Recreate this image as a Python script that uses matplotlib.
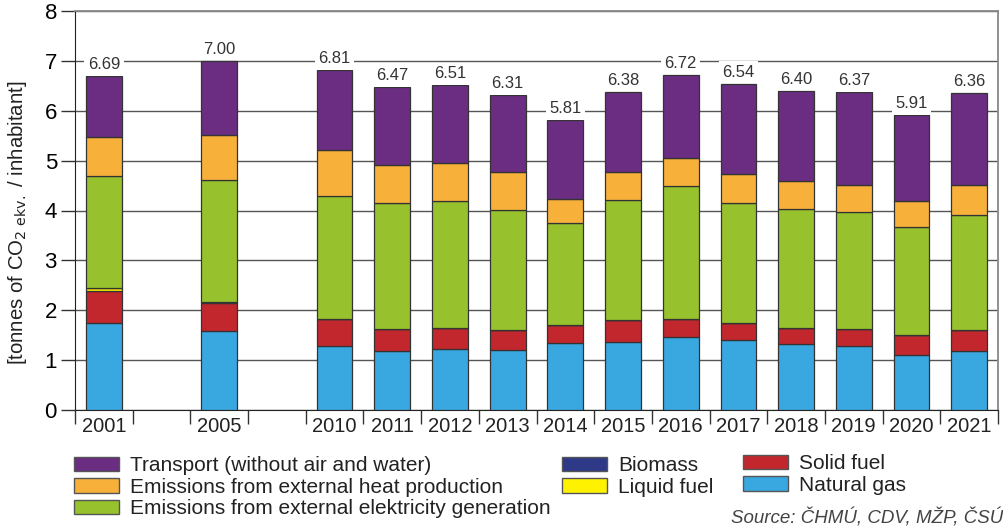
import numpy as np
import matplotlib.pyplot as plt
from matplotlib.patches import Patch
plt.rcParams.update({'font.family': ['Liberation Sans', 'DejaVu Sans'], 'font.size': 13})

########################################
# DATA (tonnes CO2 ekv. / inhabitant)

slots = ['2001', '', '2005', '', '2010', '2011', '2012', '2013', '2014',
         '2015', '2016', '2017', '2018', '2019', '2020', '2021']
years = ['2001', '2005', '2010', '2011', '2012', '2013', '2014',
         '2015', '2016', '2017', '2018', '2019', '2020', '2021']

natural_gas = [1.75, 1.59, 1.28, 1.18, 1.22, 1.20, 1.34, 1.36, 1.47, 1.40, 1.32, 1.28, 1.10, 1.19]
solid_fuel  = [0.64, 0.56, 0.54, 0.44, 0.42, 0.40, 0.36, 0.44, 0.36, 0.34, 0.32, 0.34, 0.40, 0.41]
liquid_fuel = [0.05, 0.02, 0.00, 0.00, 0.00, 0.00, 0.00, 0.00, 0.00, 0.00, 0.00, 0.00, 0.00, 0.00]
biomass     = [0.00, 0.00, 0.00, 0.00, 0.00, 0.00, 0.00, 0.00, 0.00, 0.00, 0.00, 0.00, 0.00, 0.00]
electricity = [2.26, 2.45, 2.48, 2.54, 2.55, 2.42, 2.04, 2.42, 2.66, 2.42, 2.40, 2.35, 2.16, 2.30]
heat        = [0.77, 0.89, 0.92, 0.76, 0.77, 0.76, 0.49, 0.55, 0.56, 0.57, 0.55, 0.55, 0.54, 0.61]
transport   = [1.22, 1.49, 1.59, 1.55, 1.55, 1.53, 1.58, 1.61, 1.67, 1.81, 1.81, 1.85, 1.71, 1.85]
totals      = [6.69, 7.00, 6.81, 6.47, 6.51, 6.31, 5.81, 6.38, 6.72, 6.54, 6.40, 6.37, 5.91, 6.36]

series = [
    ('Natural gas', natural_gas, '#3aa8e0'),
    ('Solid fuel', solid_fuel, '#c1272d'),
    ('Liquid fuel', liquid_fuel, '#fff200'),
    ('Biomass', biomass, '#2e3a87'),
    ('Emissions from external elektricity generation', electricity, '#97c12d'),
    ('Emissions from external heat production', heat, '#f7b13a'),
    ('Transport (without air and water)', transport, '#6a2d82'),
]
colors = {name: c for name, _, c in series}

########################################
# FIGURE

fig = plt.figure(figsize=(10.04, 5.29), dpi=100)
ax = fig.add_axes([75 / 1004, 1 - 410 / 529, 923 / 1004, 399 / 529])

x = np.array([slots.index(y) for y in years])
bottom = np.zeros(len(years))
for name, vals, c in series:
    vals = np.array(vals)
    ax.bar(x, vals, width=0.62, bottom=bottom, color=c,
           edgecolor='#333333', linewidth=0.9, zorder=3)
    bottom += vals

for xi, top, tot in zip(x, bottom, totals):
    ax.text(xi, top + 0.08, f'{tot:.2f}', ha='center', va='bottom',
            fontsize=12, color='#333333', zorder=4,
            bbox=dict(facecolor='white', edgecolor='none', pad=2.5))

ax.set_xlim(-0.5, len(slots) - 0.5)
ax.set_ylim(0, 8)
ax.set_yticks(np.arange(0, 9, 1))
ax.yaxis.grid(True, color='#555555', linewidth=1.0, zorder=0)
ax.set_axisbelow(True)
ax.tick_params(axis='y', length=10, width=1, color='#333333', labelsize=16, pad=3)

ax.set_xticks(np.arange(len(slots)))
ax.set_xticklabels(slots)
ax.set_xticks(np.arange(-0.5, len(slots)), minor=True)
ax.tick_params(axis='x', which='major', length=0, labelsize=14.5, pad=5,
               labelcolor='#222222')
ax.tick_params(axis='x', which='minor', length=10, width=1, color='#333333')

for s in ['left', 'bottom']:
    ax.spines[s].set_color('#222222')
for s in ['top', 'right']:
    ax.spines[s].set_color('#888888')
    ax.spines[s].set_linewidth(1.3)

ax.set_ylabel(r'[tonnes of CO$_{2\ \mathrm{ekv.}}$ / inhabitant]', fontsize=14.7,
              color='#222222')
ax.yaxis.set_label_coords(-0.050, 0.47)

########################################
# LEGEND

def _legend(names, anchor):
    handles = [Patch(facecolor=colors[n], edgecolor='#555555', linewidth=1.0) for n in names]
    leg = fig.legend(handles, names, loc='upper left', bbox_to_anchor=anchor,
                     frameon=False, fontsize=15, handlelength=2.15,
                     handleheight=0.68, handletextpad=0.55, labelspacing=0.13,
                     borderaxespad=0, borderpad=0)
    for t in leg.get_texts():
        t.set_color('#222222')
    return leg

_legend(['Transport (without air and water)',
         'Emissions from external heat production',
         'Emissions from external elektricity generation'], (74 / 1004, 1 - 456 / 529))
_legend(['Biomass', 'Liquid fuel'], (562 / 1004, 1 - 456 / 529))
_legend(['Solid fuel', 'Natural gas'], (743 / 1004, 1 - 454 / 529))

fig.text(0.999, 1 / 529, 'Source: ČHMÚ, CDV, MŽP, ČSÚ', ha='right', va='bottom',
         fontsize=13.5, style='italic', color='#444444')

fig.savefig('out.png', dpi=100)
